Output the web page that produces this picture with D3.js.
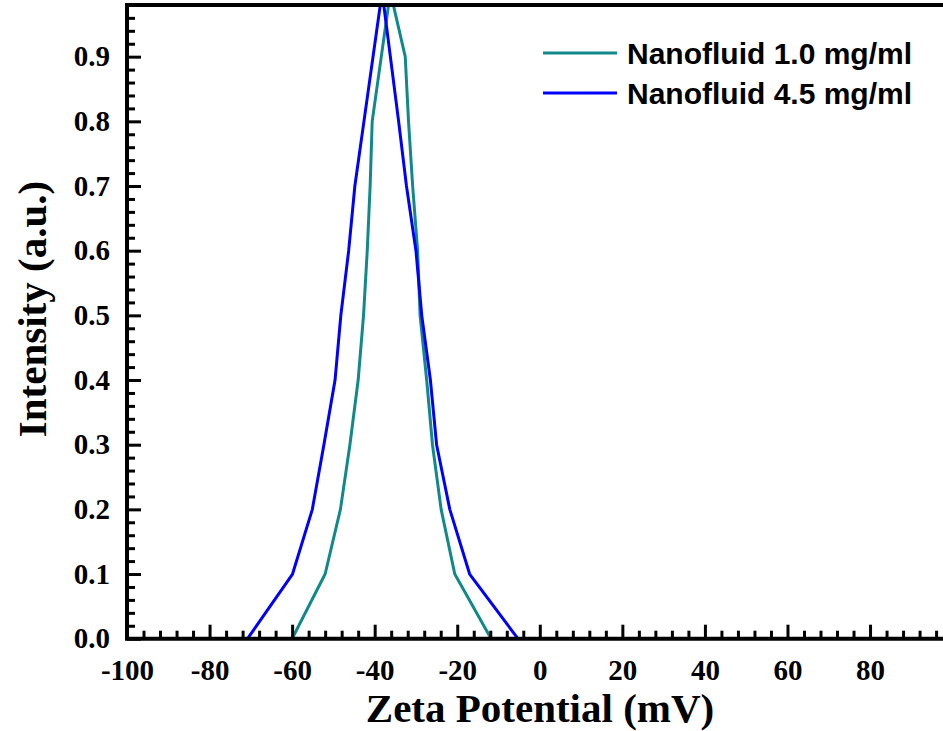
<!DOCTYPE html>
<html>
<head>
<meta charset="utf-8">
<script src="https://cdn.jsdelivr.net/npm/d3@7"></script>
<style>
  body { margin: 0; background: #fff; }
</style>
</head>
<body>
<div id="chart-area"></div>
<script>
// data
var seriesNames = ["Nanofluid 1.0 mg/ml", "Nanofluid 4.5 mg/ml"];
var seriesColors = ["#11898a", "#0000ff"];

var zeta1 = [-60, -52, -48.3, -46, -44, -42.7, -41.8, -41.1, -40.6, -36.2, -32.6, -31.8, -30.8, -29.6, -29, -27.4, -26, -23.9, -20.6, -11.8];
var int1  = [0, 0.1, 0.2, 0.3, 0.4, 0.5, 0.6, 0.7, 0.8, 1.0, 0.9, 0.8, 0.7, 0.6, 0.5, 0.4, 0.3, 0.2, 0.1, 0];

var zeta2 = [-70.8, -59.9, -55.1, -52.3, -49.6, -48.2, -46.3, -44.8, -42.6, -38.2, -34.2, -32.3, -30, -28.6, -26.5, -25, -21.8, -17, -5.3];
var int2  = [0, 0.1, 0.2, 0.3, 0.4, 0.5, 0.6, 0.7, 0.8, 1.0, 0.8, 0.7, 0.6, 0.5, 0.4, 0.3, 0.2, 0.1, 0];

var xTicks = [-100, -80, -60, -40, -20, 0, 20, 40, 60, 80];
var yTicks = [0, 0.1, 0.2, 0.3, 0.4, 0.5, 0.6, 0.7, 0.8, 0.9];

var width = 943, height = 731;
var plotLeft = 127, plotBottom = 638.7, plotTop = 5;

var svg = d3.select("#chart-area")
  .append("svg")
  .attr("width", width)
  .attr("height", height)
  .style("display", "block");

var x = d3.scaleLinear().domain([-100, 100]).range([plotLeft, 952.6]);
var y = d3.scaleLinear().domain([0, 1]).range([plotBottom, -8]);

svg.append("clipPath").attr("id", "clip")
  .append("rect")
  .attr("x", plotLeft).attr("y", plotTop)
  .attr("width", width - plotLeft).attr("height", plotBottom - plotTop);

var series = [
  zeta1.map((d, i) => ({ x: d, y: int1[i] })),
  zeta2.map((d, i) => ({ x: d, y: int2[i] }))
];

var line = d3.line().x(d => x(d.x)).y(d => y(d.y));

svg.append("g").attr("clip-path", "url(#clip)")
  .selectAll("path")
  .data(series)
  .enter().append("path")
  .attr("d", line)
  .attr("fill", "none")
  .attr("stroke", (d, i) => seriesColors[i])
  .attr("stroke-width", 3)
  .attr("stroke-linejoin", "round");

// minor ticks
var xMinor = d3.range(-100, 101, 4).filter(v => v % 20 !== 0);
var yMinor = d3.range(0, 50).map(i => i * 0.02).filter((v, i) => i % 5 !== 0);

var xAxisG = svg.append("g")
  .attr("transform", "translate(0," + plotBottom + ")");
xAxisG.call(d3.axisBottom(x).tickValues(xMinor).tickSize(-8).tickFormat(""));
xAxisG.append("g").call(d3.axisBottom(x).tickValues(xTicks).tickSize(-14).tickPadding(21)
  .tickFormat(d => String(d)));

var yAxisG = svg.append("g")
  .attr("transform", "translate(" + plotLeft + ",0)");
yAxisG.call(d3.axisLeft(y).tickValues(yMinor).tickSize(-8).tickFormat(""));
yAxisG.append("g").call(d3.axisLeft(y).tickValues(yTicks).tickSize(-14).tickPadding(17)
  .tickFormat(d3.format(".1f")));

svg.selectAll(".domain").remove();
svg.selectAll(".tick line")
  .attr("stroke", "#000")
  .attr("stroke-width", 3);
svg.selectAll(".tick text")
  .attr("fill", "#000")
  .style("font-family", "'Liberation Serif', 'Times New Roman', serif")
  .style("font-weight", "bold")
  .style("font-size", "29px");

// frame: bottom, left, top
svg.append("path")
  .attr("d", "M" + plotLeft + "," + plotBottom + "H" + width + "M" + plotLeft + "," + plotBottom + "V" + plotTop + "H" + width)
  .attr("fill", "none")
  .attr("stroke", "#000")
  .attr("stroke-width", 4)
  .attr("stroke-linecap", "square");

svg.append("text")
  .attr("x", 540)
  .attr("y", 722)
  .attr("text-anchor", "middle")
  .style("font-family", "'Liberation Serif', 'Times New Roman', serif")
  .style("font-weight", "bold")
  .style("font-size", "41px")
  .text("Zeta Potential (mV)");

svg.append("text")
  .attr("transform", "translate(46,309) rotate(-90)")
  .attr("text-anchor", "middle")
  .style("font-family", "'Liberation Serif', 'Times New Roman', serif")
  .style("font-weight", "bold")
  .style("font-size", "41px")
  .text("Intensity (a.u.)");

// legend
var legend = svg.selectAll(".legend")
  .data(seriesNames)
  .enter().append("g")
  .attr("class", "legend")
  .attr("transform", (d, i) => "translate(543," + (53 + i * 40) + ")");

legend.append("line")
  .attr("x1", 0).attr("x2", 74)
  .attr("stroke", (d, i) => seriesColors[i])
  .attr("stroke-width", 3);

legend.append("text")
  .attr("x", 84)
  .attr("y", 11)
  .style("font-family", "'Liberation Sans', Arial, sans-serif")
  .style("font-weight", "bold")
  .style("font-size", "30px")
  .text(d => d);
</script>
</body>
</html>
